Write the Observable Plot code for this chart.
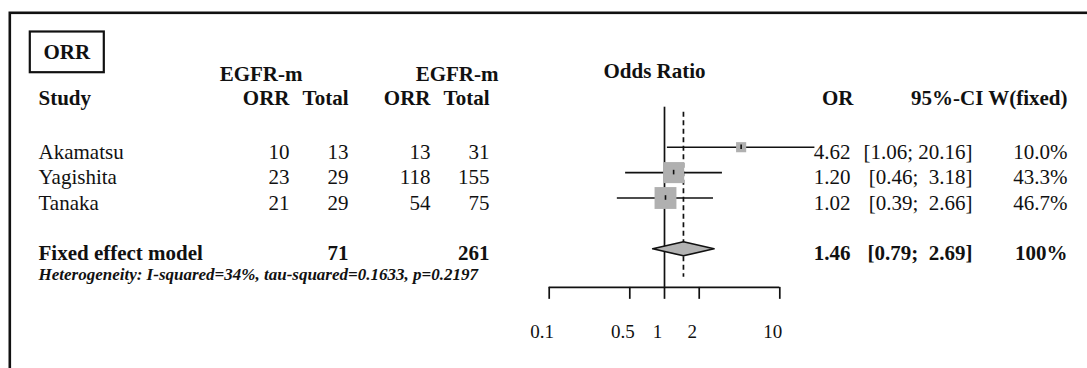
<!DOCTYPE html>
<html>
<head>
<meta charset="utf-8">
<script src="https://cdn.jsdelivr.net/npm/d3@7"></script>
<script src="https://cdn.jsdelivr.net/npm/@observablehq/plot@0.6"></script>
<style>
  html, body { margin: 0; padding: 0; background: #fff; overflow: hidden; }
  svg text { white-space: pre; }
</style>
</head>
<body>
<div id="chart"></div>
<script>
// ---------- data ----------
const studies      = ["Akamatsu", "Yagishita", "Tanaka"];
const expEvents    = [10, 23, 21];
const expTotal     = [13, 29, 29];
const ctrlEvents   = [13, 118, 54];
const ctrlTotal    = [31, 155, 75];
const oddsRatio    = [4.62, 1.20, 1.02];
const ciLower      = [1.06, 0.46, 0.39];
const ciUpper      = [20.16, 3.18, 2.66];
const weightFixed  = [10.0, 43.3, 46.7];

const pooledLabel     = "Fixed effect model";
const pooledExpTotal  = 71;
const pooledCtrlTotal = 261;
const pooledOR        = 1.46;
const pooledLower     = 0.79;
const pooledUpper     = 2.69;
const pooledWeight    = "100%";

const heterogeneity = "Heterogeneity: I-squared=34%, tau-squared=0.1633, p=0.2197";
const xTicks = [0.1, 0.5, 1, 2, 10];

const titleText  = "ORR";
const groupLabel = "EGFR-m";
const headerStudy = "Study";
const headerEvents = "ORR";
const headerTotal = "Total";
const headerPlot = "Odds Ratio";
const headerOR = "OR";
const headerCI = "95%-CI W(fixed)";

// ---------- layout (pixels / row units) ----------
const W = 1087, H = 368;
const font = "'Liberation Serif', 'Times New Roman', Times, serif";
const baseDy = 11.6;                    // baseline offset of text below row centre
const colX = {name: 38, c1: 289, c2: 348, c3: 430, c4: 489, egfr1: 302, egfr2: 498,
              title: 43, odds: 603, or: 850, orHdr: 853, ci: 972, w: 1067};
const rowY = {title: -2.94, hdr1: -2.08, odds: -2.2, hdr2: -1.1, pooled: 5, het: 5.78,
              axis: 6.52, tickEnd: 6.99, tickLabel: 8.26,
              refTop: -0.575, dashTop: -0.378, dashBottom: 6.12};

const fmt2 = v => v.toFixed(2);
const ciText = (lo, hi) => `[${fmt2(lo)}; ${hi < 10 ? " " : ""}${fmt2(hi)}]`;

const table = studies.map((s, i) => ({
  study: s, row: i + 1,
  e: expEvents[i], et: expTotal[i], c: ctrlEvents[i], ct: ctrlTotal[i],
  or: oddsRatio[i], lo: ciLower[i], hi: ciUpper[i], w: weightFixed[i]
}));
const pooledRow = [{row: rowY.pooled, study: pooledLabel, et: pooledExpTotal, ct: pooledCtrlTotal,
  or: pooledOR, lo: pooledLower, hi: pooledUpper, w: pooledWeight}];

const dh = 0.276;
const diamond = [
  [pooledLower, rowY.pooled], [pooledOR, rowY.pooled - dh],
  [pooledUpper, rowY.pooled], [pooledOR, rowY.pooled + dh], [pooledLower, rowY.pooled]
];

function col(data, text, x, opts = {}) {
  return Plot.text(data, {
    text, y: "row", frameAnchor: "left", dx: x, dy: baseDy,
    lineAnchor: "bottom", textAnchor: "end", fontSize: 21, fill: "#111", ...opts
  });
}
function label(str, row, x, opts = {}) {
  return Plot.text([str], {
    text: d => d, y: () => row, frameAnchor: "left", dx: x, dy: baseDy,
    lineAnchor: "bottom", textAnchor: "start", fontSize: 21, fontWeight: "bold", fill: "#111", ...opts
  });
}

const chart = Plot.plot({
  width: W, height: H,
  marginLeft: 0, marginRight: 0, marginTop: 0, marginBottom: 0,
  style: {fontFamily: font, background: "#fff", color: "#111", overflow: "hidden"},
  x: {type: "log", domain: [0.1, 10], range: [548.7, 779.3], label: null, axis: null},
  y: {type: "linear", domain: [1, 5], range: [146.7, 248.3], axis: null},
  r: {type: "sqrt", domain: [0, 100], range: [0, 18.06]},
  marks: [
    // outer frame and title box
    Plot.frame({insetLeft: 9.3, insetTop: 12.3, insetRight: -40, insetBottom: -60, stroke: "#111", strokeWidth: 2.6}),
    Plot.frame({insetLeft: 29.3, insetTop: 31, insetRight: W - 103.3, insetBottom: H - 71.7, stroke: "#111", strokeWidth: 2.2}),
    label(titleText, rowY.title, colX.title),

    // headers
    label(groupLabel, rowY.hdr1, colX.egfr1, {textAnchor: "end"}),
    label(groupLabel, rowY.hdr1, colX.egfr2, {textAnchor: "end"}),
    label(headerStudy, rowY.hdr2, colX.name),
    label(headerEvents, rowY.hdr2, colX.c1, {textAnchor: "end"}),
    label(headerTotal, rowY.hdr2, colX.c2, {textAnchor: "end"}),
    label(headerEvents, rowY.hdr2, colX.c3, {textAnchor: "end"}),
    label(headerTotal, rowY.hdr2, colX.c4, {textAnchor: "end"}),
    label(headerPlot, rowY.odds, colX.odds),
    label(headerOR, rowY.hdr2, colX.orHdr, {textAnchor: "end"}),
    label(headerCI, rowY.hdr2, colX.w, {textAnchor: "end"}),

    // study rows
    col(table, "study", colX.name, {textAnchor: "start"}),
    col(table, "e", colX.c1),
    col(table, "et", colX.c2),
    col(table, "c", colX.c3),
    col(table, "ct", colX.c4),
    col(table, d => fmt2(d.or), colX.or),
    col(table, d => ciText(d.lo, d.hi), colX.ci),
    col(table, d => d.w.toFixed(1) + "%", colX.w),

    // pooled row
    col(pooledRow, "study", colX.name, {textAnchor: "start", fontWeight: "bold"}),
    col(pooledRow, "et", colX.c2, {fontWeight: "bold"}),
    col(pooledRow, "ct", colX.c4, {fontWeight: "bold"}),
    col(pooledRow, d => fmt2(d.or), colX.or, {fontWeight: "bold"}),
    col(pooledRow, d => ciText(d.lo, d.hi), colX.ci, {fontWeight: "bold"}),
    col(pooledRow, "w", colX.w, {fontWeight: "bold"}),
    label(heterogeneity, rowY.het, colX.name, {fontSize: 17, fontStyle: "italic"}),

    // forest plot
    Plot.ruleX([1], {y1: rowY.refTop, y2: rowY.axis, stroke: "#111", strokeWidth: 1.7}),
    Plot.ruleX([pooledOR], {y1: rowY.dashTop, y2: rowY.dashBottom, stroke: "#111", strokeWidth: 1.7, strokeDasharray: "5,3.5"}),
    Plot.ruleY(table, {y: "row", x1: "lo", x2: "hi", stroke: "#111", strokeWidth: 1.6}),
    Plot.dot(table, {x: "or", y: "row", r: "w", symbol: "square", fill: "#b0b0b0", stroke: "none"}),
    Plot.ruleX(table, {x: "or", y1: d => d.row - 0.09, y2: d => d.row + 0.09, stroke: "#111", strokeWidth: 1.6}),
    Plot.line(diamond, {x: d => d[0], y: d => d[1], fill: "#b3b3b3", stroke: "#111", strokeWidth: 1.6}),

    // axis
    Plot.ruleY([rowY.axis], {x1: xTicks[0], x2: xTicks[xTicks.length - 1], stroke: "#111", strokeWidth: 1.7}),
    Plot.ruleX(xTicks, {x: d => d, y1: rowY.axis, y2: rowY.tickEnd, stroke: "#111", strokeWidth: 1.7}),
    Plot.text(xTicks, {x: d => d, y: () => rowY.tickLabel, text: d => String(d), dx: -7,
                       fontSize: 19, fill: "#111", textAnchor: "middle", lineAnchor: "middle"})
  ]
});
document.getElementById("chart").appendChild(chart);
</script>
</body>
</html>
